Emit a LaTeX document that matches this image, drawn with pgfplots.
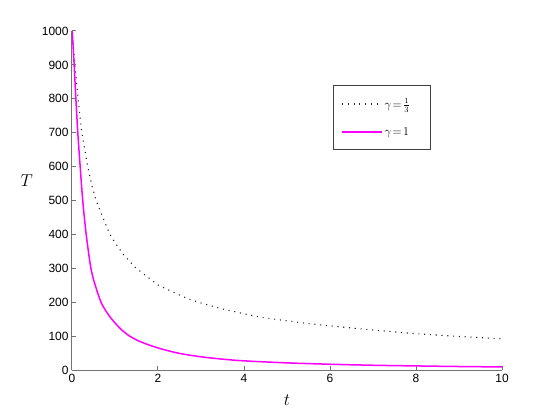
\documentclass[border=0pt]{standalone}
\usepackage{fontspec}
\setmainfont{Liberation Sans}
\usepackage{pgfplots}
\pgfplotsset{compat=1.18}
\definecolor{axgray}{gray}{0.45}
\definecolor{mag}{rgb}{1,0,1}
\begin{document}
\begin{tikzpicture}
\begin{axis}[
  name=ax,
  scale only axis,
  width=430bp, height=339bp,
  xmin=0, xmax=10, ymin=0, ymax=1000,
  axis x line=bottom, axis y line=left,
  axis line style={-, draw=axgray, line width=1bp},
  tick style={draw=axgray, line width=1bp},
  major tick length=4.5bp,
  tick align=inside,
  xtick={0,2,4,6,8,10},
  ytick={0,100,200,300,400,500,600,700,800,900,1000},
  /pgf/number format/assume math mode=true,
  /pgf/number format/1000 sep={},
  tick label style={font=\fontsize{12}{14}\selectfont, text=black},
  xticklabel style={yshift=-1bp},
  every axis y label/.style={at={(axis description cs:-0.105,0.56)}, anchor=center},
  every axis x label/.style={at={(axis description cs:0.5,-0.088)}, anchor=center},
  ylabel={\fontsize{19}{22}\selectfont $T$},
  xlabel={\fontsize{19}{22}\selectfont $t$},
  legend style={at={(axis description cs:0.835,0.841)}, anchor=north east,
    draw=black!75, line width=0.8bp, fill=white,
    font=\fontsize{12}{14}\selectfont, row sep=14bp, inner xsep=8bp, inner ysep=11bp},
  legend cell align=left,
  legend image code/.code={\draw[#1] (0bp,0bp) -- (40bp,0bp);},
]
\addplot[black!85, line width=1.1bp, dash pattern=on 1.1bp off 4.7bp] coordinates {
(0,1000)(0.035,950)(0.07,900)(0.14,800)(0.23,700)(0.365,600)(0.46,545)(0.56,500)
(0.75,440)(0.88,400)(1.02,372)(1.2,340)(1.47,303)(1.75,275)(2,251)(2.38,228)
(2.7,210)(3.04,196)(3.5,180)(4,166)(4.42,155)(5,145)(5.5,137)(6,130)(7,118)
(8,107)(9,99)(10,92)
};
\addlegendentry{\makebox[36bp][l]{$\gamma\!=\!\frac{1}{3}$}}
\addplot[mag, line width=1.5bp, smooth] coordinates {
(0.005,1000)(0.05,900)(0.09,800)(0.135,700)(0.19,600)(0.25,500)(0.33,400)
(0.44,300)(0.54,250)(0.675,200)(0.8,172)(0.9,154)(1.0,139)(1.15,119)(1.34,100)
(1.6,83)(2,65)(2.5,49)(3,39)(3.5,32)(4,27)(5,21)(6,17)(7,14)(8,12)(9,10.3)(10,9)
};
\addlegendentry{\makebox[36bp][l]{$\gamma\!=\!1$}}
\end{axis}
\path (ax.south west) ++(-72bp,-47bp) rectangle ++(554bp,417bp);
\end{tikzpicture}
\end{document}
